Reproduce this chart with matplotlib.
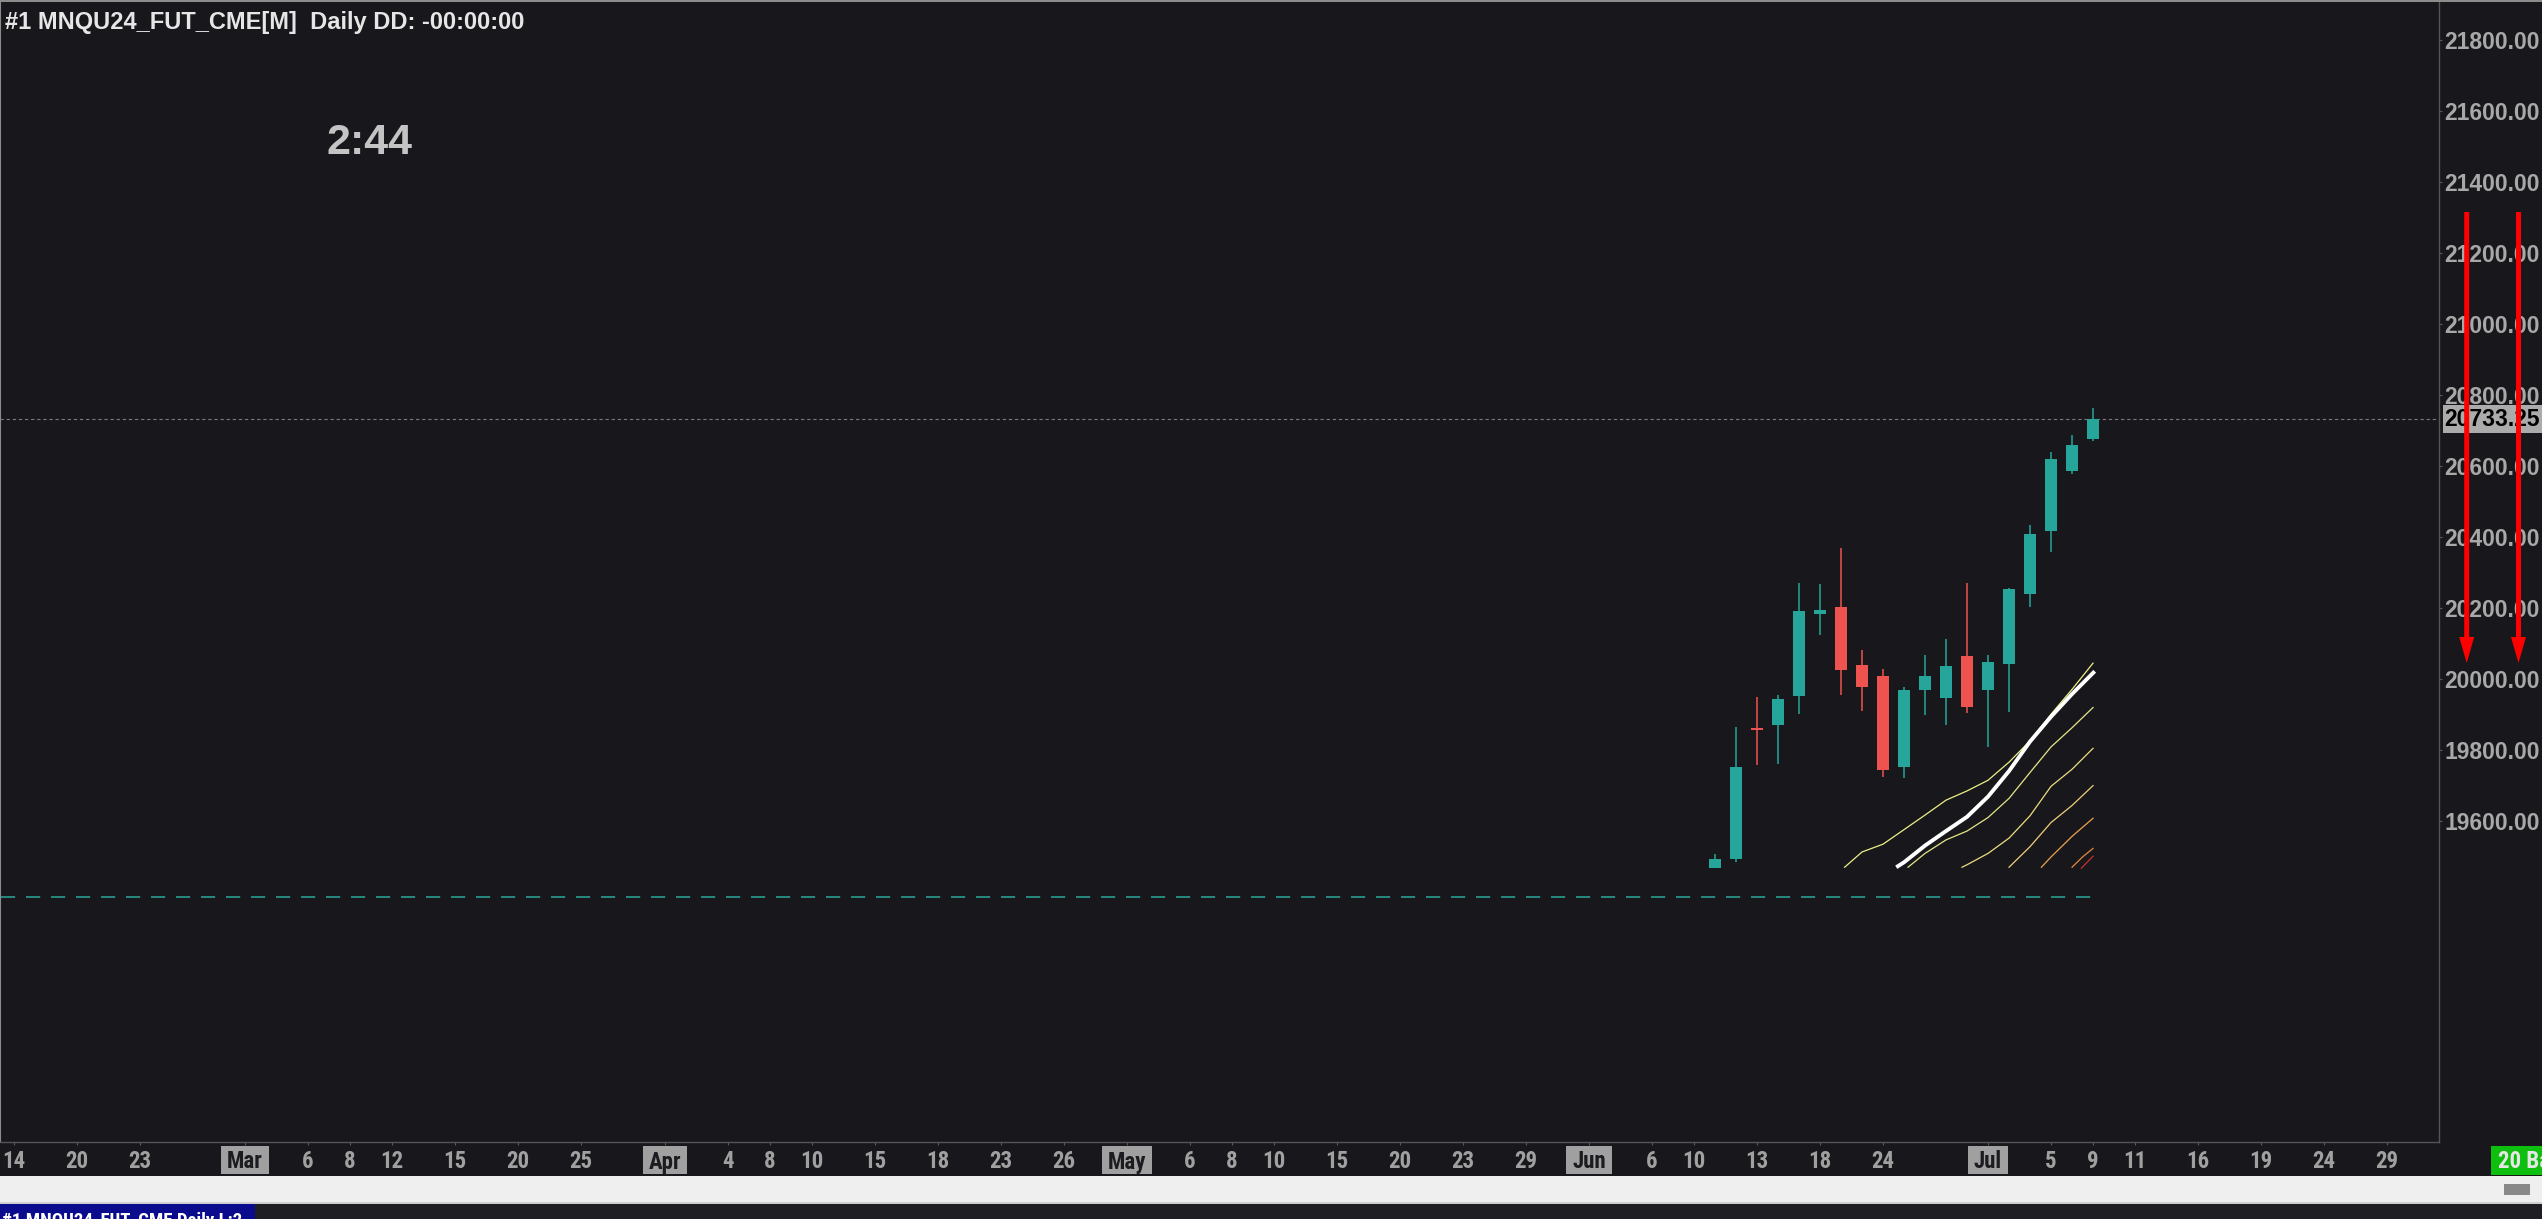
import matplotlib
matplotlib.use('Agg')
import matplotlib.pyplot as plt
from matplotlib.patches import Rectangle, FancyArrow
from matplotlib.transforms import blended_transform_factory, IdentityTransform
from matplotlib.ticker import FuncFormatter
from matplotlib import font_manager as fm
import pandas as pd

W, H, DPI = 2542, 1219, 100
BG = '#18181c'
UP = '#26a69a'
DOWN = '#ef5350'
SANS = ['Liberation Sans', 'DejaVu Sans']

# ---------------- data ----------------
holidays = ['2024-02-19', '2024-03-29', '2024-05-27', '2024-06-19', '2024-07-04']

tick_dates = ['2024-02-14', '2024-02-20', '2024-02-23', '2024-03-01', '2024-03-06', '2024-03-08',
              '2024-03-12', '2024-03-15', '2024-03-20', '2024-03-25', '2024-04-01', '2024-04-04',
              '2024-04-08', '2024-04-10', '2024-04-15', '2024-04-18', '2024-04-23', '2024-04-26',
              '2024-05-01', '2024-05-06', '2024-05-08', '2024-05-10', '2024-05-15', '2024-05-20',
              '2024-05-23', '2024-05-29', '2024-06-03', '2024-06-06', '2024-06-10', '2024-06-13',
              '2024-06-18', '2024-06-24', '2024-07-01', '2024-07-05', '2024-07-09', '2024-07-11',
              '2024-07-16', '2024-07-19', '2024-07-24', '2024-07-29']
tick_labels = ['14', '20', '23', 'Mar', '6', '8', '12', '15', '20', '25', 'Apr', '4', '8', '10',
               '15', '18', '23', '26', 'May', '6', '8', '10', '15', '20', '23', '29', 'Jun', '6',
               '10', '13', '18', '24', 'Jul', '5', '9', '11', '16', '19', '24', '29']
month_labels = ['Mar', 'Apr', 'May', 'Jun', 'Jul']

candle_dates = ['2024-06-11', '2024-06-12', '2024-06-13', '2024-06-14', '2024-06-17', '2024-06-18',
                '2024-06-20', '2024-06-21', '2024-06-24', '2024-06-25', '2024-06-26', '2024-06-27',
                '2024-06-28', '2024-07-01', '2024-07-02', '2024-07-03', '2024-07-05', '2024-07-08',
                '2024-07-09']
opens = [19469, 19494, 19863, 19871, 19951, 20182, 20203, 20041, 20010, 19753, 19968, 19948,
         20066, 19968, 20042, 20240, 20416, 20586, 20677]
highs = [19507, 19865, 19950, 19955, 20271, 20268, 20369, 20082, 20028, 19977, 20067, 20113,
         20270, 20069, 20257, 20434, 20640, 20687, 20763]
lows = [19467, 19486, 19759, 19762, 19903, 20125, 19956, 19911, 19725, 19722, 19900, 19871,
        19905, 19809, 19907, 20204, 20359, 20579, 20672]
closes = [19493, 19752, 19858, 19944, 20192, 20195, 20027, 19979, 19745, 19968, 20009, 20036,
          19922, 20047, 20254, 20409, 20619, 20659, 20733.25]
last_price = 20733.25

support_level = 19387
support_span = [-0.6, 99.4]

price_ticks = [19600, 19800, 20000, 20200, 20400, 20600, 20800, 21000, 21200, 21400, 21600, 21800]

# indicator lines (x in trading-day index, y in price)
ma1_x = [87.17, 88, 89, 90, 91, 92, 93, 94, 95, 96, 97, 98, 99]
ma1_y = [19470, 19513, 19535, 19576, 19617, 19659, 19685, 19715, 19766, 19826, 19901, 19971, 20045]
ma2_x = [89.63, 90, 91, 92, 93, 94, 95, 96, 97, 98, 99.08]
ma2_y = [19470, 19484, 19531, 19572, 19612, 19669, 19741, 19824, 19894, 19958, 20022]
ma3_x = [90.19, 91, 92, 93, 94, 95, 96, 97, 98, 99]
ma3_y = [19470, 19509, 19547, 19572, 19610, 19664, 19737, 19809, 19863, 19920]
ma4_x = [92.76, 93, 94, 95, 96, 97, 98, 99]
ma4_y = [19470, 19477, 19509, 19552, 19615, 19698, 19746, 19805]
ma5_x = [95.0, 96, 97, 98, 99]
ma5_y = [19470, 19528, 19596, 19644, 19700]
ma6_x = [96.54, 97, 98, 99]
ma6_y = [19470, 19499, 19557, 19608]
ma7_x = [98.0, 98.5, 99]
ma7_y = [19470, 19499, 19523]
ma8_x = [98.44, 99]
ma8_y = [19467, 19501]

title_text = '#1 MNQU24_FUT_CME[M]  Daily DD: -00:00:00'
timer_text = '2:44'
tab_text = '#1 MNQU24_FUT_CME Daily L:2'
bars_text = '20 Bars'

# ---------------- fonts ----------------
def find_narrow_bold():
    best = None
    for f in fm.fontManager.ttflist:
        nm = (f.name + ' ' + f.fname).lower()
        if ('narrow' in nm or 'condensed' in nm) and 'mono' not in nm and 'serif' not in f.name.lower():
            w = f.weight if isinstance(f.weight, int) else (700 if 'bold' in str(f.weight) else 400)
            if w >= 600 and 'italic' not in f.style and 'oblique' not in f.style:
                score = 0 if 'liberation' in nm or 'arial' in nm else (1 if 'roboto' in nm else 2)
                if best is None or score < best[0]:
                    best = (score, f.fname)
    return best[1] if best else None

narrow_file = find_narrow_bold()
if narrow_file:
    DATE_FP = fm.FontProperties(fname=narrow_file, size=16.5)
    TAB_FP = fm.FontProperties(fname=narrow_file, size=13.5)
else:
    DATE_FP = fm.FontProperties(family=SANS, weight='bold', size=15.5)
    TAB_FP = fm.FontProperties(family=SANS, weight='normal', size=12.5)

# ---------------- calendar ----------------
days = [d.strftime('%Y-%m-%d') for d in pd.bdate_range('2024-02-14', '2024-08-02')]
days = [d for d in days if d not in holidays]
pos = {d: i for i, d in enumerate(days)}

# ---------------- figure ----------------
fig = plt.figure(figsize=(W / DPI, H / DPI), dpi=DPI, facecolor=BG)
ax_left, ax_right, ax_top, ax_bot = 0, 2438.7, 0, 1142
ax = fig.add_axes([ax_left / W, (H - ax_bot) / H, (ax_right - ax_left) / W, (ax_bot - ax_top) / H])
ax.set_facecolor(BG)
ax.set_xlim(-0.667, 115.46)
ax.set_ylim(18696, 21913)

# candles
cx = [pos[d] for d in candle_dates]
for x, o, h, l, c in zip(cx, opens, highs, lows, closes):
    col = UP if c >= o else DOWN
    ax.vlines(x, l, h, color=col, lw=1.1, zorder=3)
    lo, hi = min(o, c), max(o, c)
    ax.bar(x, max(hi - lo, 5), bottom=lo, width=0.6, color=col, edgecolor='none', zorder=4)

# support line & last price line
ax.hlines(support_level, support_span[0], support_span[1], color='#2a9d90', lw=1.2,
          linestyles=(0, (8.5, 6.5)), zorder=2)
ax.axhline(last_price, color='#7a7a7a', lw=0.8, ls=(0, (3, 2.5)), zorder=2)

# indicator lines
thin = [(ma1_x, ma1_y, '#eeee88'), (ma3_x, ma3_y, '#e6e68a'), (ma4_x, ma4_y, '#eedd80'),
        (ma5_x, ma5_y, '#f2cf7a'), (ma6_x, ma6_y, '#f0a050'), (ma7_x, ma7_y, '#e8883a'),
        (ma8_x, ma8_y, '#c8302a')]
for xs, ys, col in thin:
    ax.plot(xs, ys, color=col, lw=0.9, zorder=5)
ax.plot(ma2_x, ma2_y, color='white', lw=2.8, zorder=6, solid_capstyle='butt')

# spines
for s in ['right', 'bottom']:
    ax.spines[s].set_color('#555555')
    ax.spines[s].set_linewidth(1.0)
for s in ['left', 'top']:
    ax.spines[s].set_color('#8c8c8c')
    ax.spines[s].set_linewidth(1.5)

# price axis
ax.yaxis.tick_right()
ax.set_yticks(price_ticks)
ax.yaxis.set_major_formatter(FuncFormatter(lambda v, p: f'{v:.2f}'))
ax.tick_params(axis='y', direction='out', length=2.2, width=0.8, color='#5a5a5a', pad=1.8,
               labelsize=16.5, labelcolor='#a8a8a8')
for lab in ax.get_yticklabels():
    lab.set_fontweight('bold')
    lab.set_family(SANS)

# date axis
tx = [pos[d] for d in tick_dates]
ax.set_xticks(tx)
ax.tick_params(axis='x', direction='out', length=2.2, width=0.8, color='#5a5a5a', labelbottom=False)
trans = blended_transform_factory(ax.transData, ax.transAxes)
y_base = -(1168.5 - ax_bot) / (ax_bot - ax_top)
month_texts = []
for x, lab in zip(tx, tick_labels):
    is_month = lab in month_labels
    t = ax.text(x, y_base, lab, transform=trans, ha='center', va='baseline',
                fontproperties=DATE_FP, clip_on=False,
                color='#1c1c20' if is_month else '#a0a0a0', zorder=10)
    if is_month:
        month_texts.append(t)

# overlay in pixel coordinates (y from top)
ov = fig.add_axes([0, 0, 1, 1], zorder=5)
ov.set_xlim(0, W)
ov.set_ylim(H, 0)
ov.axis('off')
ov.patch.set_alpha(0)

# top border
ov.add_patch(Rectangle((0, 0), W, 1.5, fc='#8c8c8c', ec='none'))

# title & timer
ov.text(5, 28.7, title_text, ha='left', va='baseline', fontsize=17, fontweight='bold',
        family=SANS, color='#e6e6e6')
ov.text(326, 154.5, timer_text, ha='left', va='baseline', fontsize=31, fontweight='bold',
        family=SANS, color='#c4c4c4')

# last price label
ov.add_patch(Rectangle((2442.7, 404.5), W - 2442.7, 28, fc='#ababab', ec='none', zorder=2))
ov.text(2444, 426.5, f'{last_price:.2f}', ha='left', va='baseline', fontsize=16.5,
        fontweight='bold', family=SANS, color='#000000', zorder=3)

# red arrows
for axx in [2466.7, 2518.5]:
    ov.add_patch(FancyArrow(axx, 212, 0, 451, width=5, head_width=15, head_length=26,
                            length_includes_head=True, color='#ff0000', ec='none', zorder=4))

# bottom strips
ov.add_patch(Rectangle((0, 1176), W, 26, fc='#efefef', ec='none'))
ov.add_patch(Rectangle((0, 1202), W, 1.5, fc='#cfcfcf', ec='none'))
ov.add_patch(Rectangle((0, 1203.5), W, 16, fc='#1f1f23', ec='none'))
tab = Rectangle((0, 1204), 255, 16, fc='#0b0b8e', ec='none')
ov.add_patch(tab)
tt = ov.text(2, 1225.5, tab_text, ha='left', va='baseline', fontproperties=TAB_FP,
             color='#ffffff')
tt.set_clip_path(tab)
ov.add_patch(Rectangle((2504, 1184), 26, 11, fc='#888888', ec='none'))

# green bars box
ov.add_patch(Rectangle((2491, 1146), W - 2491, 29, fc='#0fbf0f', ec='none'))
ov.text(2498, 1168.5, bars_text, ha='left', va='baseline', fontproperties=DATE_FP,
        color='#e6e6e6')

# month label boxes (measured from rendered text)
fig.canvas.draw()
for t in month_texts:
    bb = t.get_window_extent()
    ax.add_artist(Rectangle((bb.x0 - 6, H - 1174), bb.width + 12, 28, fc='#a0a0a0', ec='none',
                            transform=IdentityTransform(), clip_on=False, zorder=9))

fig.savefig('out.png', dpi=DPI, facecolor=BG)
